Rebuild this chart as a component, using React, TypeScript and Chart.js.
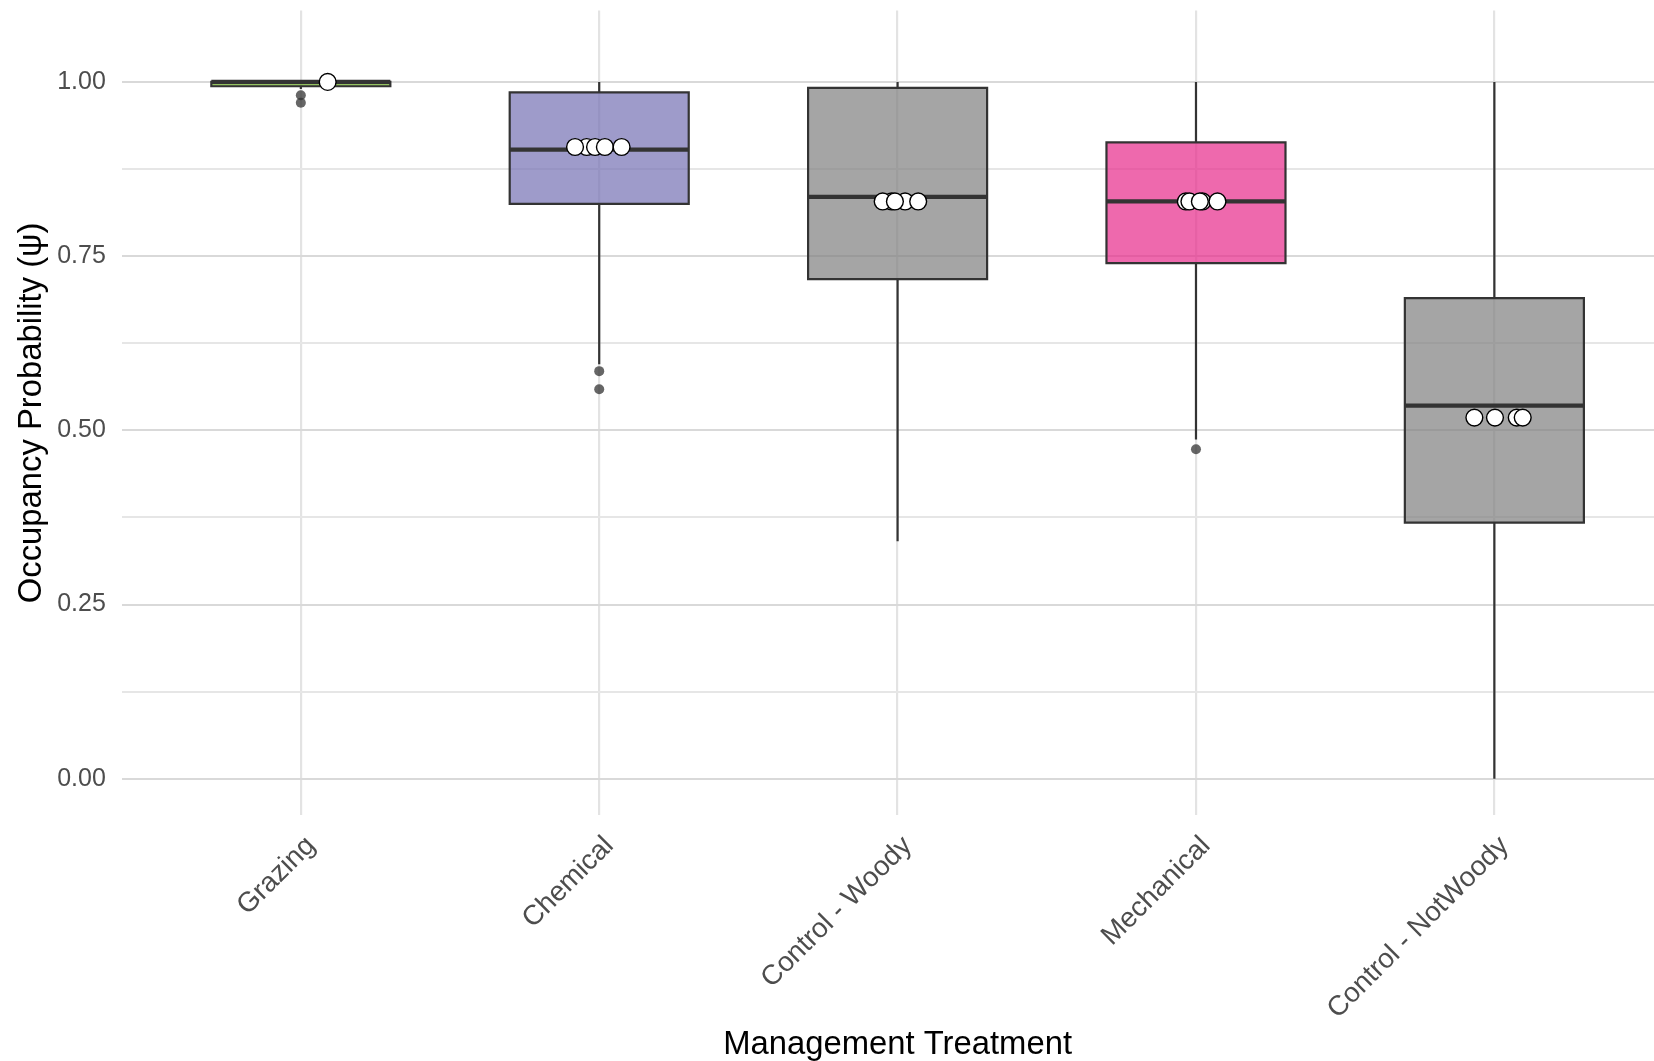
import React, { useEffect, useRef } from 'react';
import { Chart, registerables } from 'chart.js';

Chart.register(...registerables);

// ---- data ----
const categories = ['Grazing', 'Chemical', 'Control - Woody', 'Mechanical', 'Control - NotWoody'];

// box-and-whisker summaries per treatment
const lowerWhisker = [0.99, 0.595, 0.341, 0.487, 0.0];
const lowerQuartile = [0.9938, 0.825, 0.717, 0.74, 0.3675];
const medianValue = [1.0, 0.903, 0.835, 0.8285, 0.5355];
const upperQuartile = [1.0, 0.985, 0.9915, 0.9133, 0.6897];
const upperWhisker = [1.0, 1.0, 1.0, 1.0, 1.0];

// outlying draws
const outlierTreatment = ['Grazing', 'Grazing', 'Chemical', 'Chemical', 'Mechanical'];
const outlierValue = [0.981, 0.97, 0.585, 0.559, 0.473];

// site-level estimates (one value per treatment, jittered horizontally)
const siteEstimate = [1.0, 0.9066, 0.8285, 0.8285, 0.5183];
const grazingJitter = [0.09];
const chemicalJitter = [-0.042, -0.081, -0.014, 0.019, 0.075];
const woodyJitter = [-0.02, 0.025, -0.05, -0.009, 0.069];
const mechanicalJitter = [-0.034, 0.022, -0.022, 0.013, 0.072];
const notWoodyJitter = [-0.067, 0.002, 0.075, 0.095];
const siteJitter = [grazingJitter, chemicalJitter, woodyJitter, mechanicalJitter, notWoodyJitter];

const yMajorTicks = [0, 0.25, 0.5, 0.75, 1.0];
const yMinorTicks = [0.125, 0.375, 0.625, 0.875];

const xTitle = 'Management Treatment';
const yTitle = 'Occupancy Probability (ψ)';

// ---- styles ----
const FONT = '"Liberation Sans", Arial, Helvetica, sans-serif';
const boxFill = [
  'rgba(102,166,30,0.7)',
  'rgba(117,112,179,0.7)',
  'rgba(127,127,127,0.7)',
  'rgba(231,41,138,0.7)',
  'rgba(127,127,127,0.7)',
];
const INK = '#333333';
const HALF_BOX = 0.3;

const axisTextPlugin = {
  id: 'axisText',
  afterDraw(chart: any) {
    const { ctx, chartArea } = chart;
    const x = chart.scales.x;
    ctx.save();
    // rotated category labels
    ctx.fillStyle = '#4D4D4D';
    ctx.font = `27.8px ${FONT}`;
    ctx.textAlign = 'right';
    ctx.textBaseline = 'alphabetic';
    categories.forEach((name, i) => {
      const px = x.getPixelForValue(i + 1);
      ctx.save();
      ctx.translate(px + 15.5, chartArea.bottom + 31.5);
      ctx.rotate(-Math.PI / 4);
      ctx.fillText(name, 0, 0);
      ctx.restore();
    });
    // axis titles
    ctx.fillStyle = '#000000';
    ctx.font = `32.8px ${FONT}`;
    ctx.textAlign = 'center';
    ctx.fillText(xTitle, x.getPixelForValue((1 + categories.length) / 2), 1054);
    ctx.save();
    ctx.translate(40.5, (chartArea.top + chartArea.bottom) / 2);
    ctx.rotate(-Math.PI / 2);
    ctx.fillText(yTitle, 0, 0);
    ctx.restore();
    ctx.restore();
  },
};

export default function App() {
  const canvasRef = useRef<HTMLCanvasElement | null>(null);

  useEffect(() => {
    const canvas = canvasRef.current;
    if (!canvas) return;

    const datasets: any[] = [];

    // box bodies
    datasets.push({
      type: 'bar',
      data: categories.map((_, i) => ({ x: i + 1, y: [lowerQuartile[i], upperQuartile[i]] })),
      backgroundColor: boxFill,
      borderWidth: 0,
      barPercentage: 0.6,
      categoryPercentage: 1,
      order: 10,
    });

    // whiskers
    categories.forEach((_, i) => {
      const segs = [
        [upperQuartile[i], upperWhisker[i]],
        [lowerWhisker[i], lowerQuartile[i]],
      ];
      segs.forEach(([a, b]) => {
        if (b - a <= 0) return;
        datasets.push({
          type: 'line',
          data: [{ x: i + 1, y: a }, { x: i + 1, y: b }],
          borderColor: INK,
          borderWidth: 2.2,
          pointRadius: 0,
          fill: false,
          order: 8,
        });
      });
    });

    // box outlines
    categories.forEach((_, i) => {
      const c = i + 1;
      datasets.push({
        type: 'line',
        data: [
          { x: c - HALF_BOX, y: lowerQuartile[i] },
          { x: c - HALF_BOX, y: upperQuartile[i] },
          { x: c + HALF_BOX, y: upperQuartile[i] },
          { x: c + HALF_BOX, y: lowerQuartile[i] },
          { x: c - HALF_BOX, y: lowerQuartile[i] },
        ],
        borderColor: INK,
        borderWidth: 2.2,
        borderJoinStyle: 'miter',
        borderCapStyle: 'square',
        pointRadius: 0,
        tension: 0,
        fill: false,
        order: 6,
      });
    });

    // medians
    categories.forEach((_, i) => {
      const c = i + 1;
      datasets.push({
        type: 'line',
        data: [
          { x: c - HALF_BOX, y: medianValue[i] },
          { x: c + HALF_BOX, y: medianValue[i] },
        ],
        borderColor: INK,
        borderWidth: 4.2,
        pointRadius: 0,
        fill: false,
        order: 5,
      });
    });

    // outliers
    datasets.push({
      type: 'scatter',
      data: outlierValue.map((v, k) => ({ x: categories.indexOf(outlierTreatment[k]) + 1, y: v })),
      backgroundColor: 'rgba(51,51,51,0.75)',
      borderWidth: 0,
      pointRadius: 5,
      order: 3,
    });

    // site estimates
    datasets.push({
      type: 'scatter',
      data: siteJitter.flatMap((offs, i) => offs.map((o) => ({ x: i + 1 + o, y: siteEstimate[i] }))),
      backgroundColor: '#ffffff',
      borderColor: '#000000',
      borderWidth: 1.4,
      pointRadius: 8.4,
      order: 1,
    });

    const chart = new Chart(canvas, {
      type: 'bar',
      data: { datasets },
      options: {
        animation: false,
        responsive: false,
        events: [],
        layout: { autoPadding: false, padding: { top: 10.5, left: 0, right: 0, bottom: 0 } },
        plugins: { legend: { display: false }, tooltip: { enabled: false } },
        scales: {
          x: {
            type: 'linear',
            min: 0.4,
            max: 5.535,
            offset: false,
            afterBuildTicks: (scale: any) => {
              scale.ticks = categories.map((_, i) => ({ value: i + 1 }));
            },
            afterFit: (scale: any) => {
              scale.height = 1061 - 815.4;
              scale.paddingLeft = 0;
              scale.paddingRight = 0;
            },
            ticks: { display: false, autoSkip: false },
            grid: { color: '#e3e3e3', lineWidth: 2.2, drawTicks: false, offset: false },
            border: { display: false },
          },
          y: {
            type: 'linear',
            min: -0.0525,
            max: 1.1025,
            afterBuildTicks: (scale: any) => {
              scale.ticks = [...yMajorTicks, ...yMinorTicks]
                .sort((a, b) => a - b)
                .map((v) => ({ value: v }));
            },
            afterFit: (scale: any) => {
              scale.width = 121.8;
              scale.paddingTop = 0;
              scale.paddingBottom = 0;
            },
            ticks: {
              autoSkip: false,
              padding: 16,
              color: '#4D4D4D',
              font: { family: FONT, size: 25 },
              callback: (value: any) =>
                yMajorTicks.includes(Number(value)) ? Number(value).toFixed(2) : '',
            },
            grid: {
              drawTicks: false,
              color: (ctx: any) =>
                ctx.tick && yMajorTicks.includes(ctx.tick.value) ? '#d9d9d9' : '#e6e6e6',
              lineWidth: 2,
            },
            border: { display: false },
          },
        },
      } as any,
      plugins: [axisTextPlugin],
    });

    return () => chart.destroy();
  }, []);

  return (
    <div style={{ position: 'fixed', left: 0, top: 0, width: 1654, height: 1061, background: '#ffffff' }}>
      <canvas ref={canvasRef} width={1654} height={1061} style={{ display: 'block' }} />
    </div>
  );
}
